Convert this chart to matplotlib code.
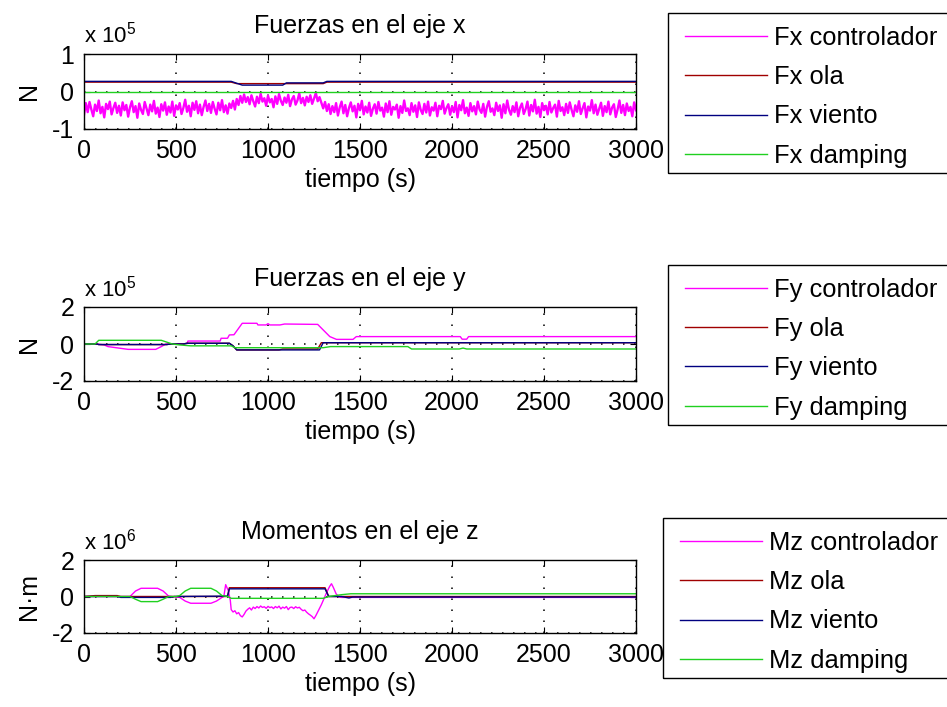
import matplotlib

matplotlib.use("Agg")
import matplotlib.pyplot as plt
from matplotlib.patches import Rectangle

# ---- data (forces in 1e5 N, moment in 1e6 N·m) ----
t_noise = list(range(0, 3001, 10))
fx_ctrl = [
    -0.62, -0.31, -0.55, -0.28, -0.48, -0.66, -0.35, -0.52, -0.24, -0.58, -0.41, -0.69, -0.33, -0.47, -0.27, -0.61, -0.44, -0.30, -0.57, -0.38,
    -0.64, -0.29, -0.50, -0.36, -0.67, -0.42, -0.26, -0.55, -0.39, -0.70, -0.32, -0.49, -0.60, -0.28, -0.45, -0.63, -0.35, -0.53, -0.25, -0.59,
    -0.43, -0.68, -0.34, -0.51, -0.29, -0.62, -0.40, -0.56, -0.27, -0.65, -0.37, -0.48, -0.31, -0.60, -0.44, -0.22, -0.54, -0.38, -0.66, -0.30,
    -0.49, -0.26, -0.58, -0.35, -0.63, -0.41, -0.24, -0.52, -0.33, -0.57, -0.28, -0.46, -0.61, -0.30, -0.50, -0.23, -0.55, -0.37, -0.59, -0.32,
    -0.44, -0.25, -0.48, -0.20, -0.36, -0.12, -0.30, -0.08, -0.28, -0.15, -0.34, -0.10, -0.26, -0.40, -0.14, -0.31, -0.06, -0.27, -0.18, -0.38,
    -0.11, -0.29, -0.20, -0.42, -0.13, -0.33, -0.07, -0.25, -0.36, -0.16, -0.30, -0.09, -0.39, -0.21, -0.12, -0.35, -0.24, -0.05, -0.31, -0.17,
    -0.37, -0.14, -0.28, -0.10, -0.33, -0.19, -0.04, -0.26, -0.15, -0.30, -0.45, -0.28, -0.52, -0.34, -0.60, -0.39, -0.55, -0.31, -0.64, -0.42,
    -0.27, -0.58, -0.36, -0.66, -0.44, -0.29, -0.53, -0.38, -0.69, -0.33, -0.50, -0.25, -0.61, -0.40, -0.56, -0.30, -0.65, -0.46, -0.34, -0.59,
    -0.28, -0.51, -0.43, -0.67, -0.32, -0.55, -0.26, -0.62, -0.41, -0.48, -0.35, -0.70, -0.39, -0.57, -0.24, -0.52, -0.45, -0.63, -0.31, -0.54,
    -0.37, -0.68, -0.29, -0.49, -0.60, -0.33, -0.56, -0.27, -0.64, -0.42, -0.51, -0.30, -0.66, -0.38, -0.47, -0.25, -0.59, -0.44, -0.34, -0.62,
    -0.40, -0.55, -0.28, -0.69, -0.36, -0.50, -0.23, -0.58, -0.43, -0.65, -0.31, -0.53, -0.39, -0.61, -0.27, -0.48, -0.57, -0.33, -0.67, -0.41,
    -0.26, -0.54, -0.45, -0.63, -0.30, -0.52, -0.37, -0.70, -0.34, -0.58, -0.24, -0.49, -0.62, -0.39, -0.55, -0.29, -0.66, -0.43, -0.32, -0.60,
    -0.47, -0.27, -0.64, -0.36, -0.53, -0.22, -0.59, -0.41, -0.68, -0.31, -0.50, -0.38, -0.61, -0.28, -0.56, -0.44, -0.35, -0.67, -0.25, -0.52,
    -0.42, -0.63, -0.33, -0.57, -0.29, -0.49, -0.66, -0.37, -0.54, -0.26, -0.60, -0.45, -0.31, -0.69, -0.40, -0.51, -0.23, -0.58, -0.35, -0.62,
    -0.46, -0.30, -0.65, -0.39, -0.55, -0.27, -0.61, -0.43, -0.34, -0.68, -0.48, -0.24, -0.57, -0.36, -0.63, -0.32, -0.52, -0.41, -0.66, -0.29,
    -0.50,
]
t_fx_ola = [0, 800, 830, 1300, 1320, 3000]
fx_ola = [0.25, 0.25, 0.21, 0.21, 0.25, 0.25]
t_fx_viento = [0, 800, 830, 860, 1080, 1100, 1300, 1320, 3000]
fx_viento = [0.27, 0.27, 0.22, 0.17, 0.17, 0.23, 0.23, 0.27, 0.27]
t_fx_damp = [0, 3000]
fx_damp = [0.0, 0.0]

t_fy_ctrl = [0, 70, 110, 130, 240, 390, 420, 445, 560, 565, 740, 745, 780, 790, 815,
             860, 940, 945, 990, 1000, 1010, 1065, 1090, 1270, 1300, 1318, 1336, 1372,
             1462, 1480, 2045, 2055, 2080, 2090, 3000]
fy_ctrl = [0.0, 0.0, -0.05, -0.14, -0.29, -0.29, -0.14, 0.0, 0.02, 0.16, 0.16, 0.31, 0.31, 0.49, 0.50,
           1.12, 1.12, 1.03, 1.03, 1.10, 1.03, 1.03, 1.08, 1.06, 0.76, 0.58, 0.40, 0.25,
           0.25, 0.40, 0.40, 0.26, 0.26, 0.40, 0.40]
t_fy_ola = [0, 70, 80, 450, 470, 540, 560, 790, 810, 830, 1060, 1080, 1270, 1290, 3000]
fy_ola = [0.0, 0.0, -0.03, -0.03, 0.0, 0.0, 0.04, 0.04, -0.10, -0.32, -0.32, -0.27, -0.27, 0.07, 0.07]
t_fy_viento = [0, 70, 80, 450, 470, 540, 560, 790, 810, 830, 1280, 1300, 3000]
fy_viento = [0.0, 0.0, -0.03, -0.03, 0.0, 0.0, 0.04, 0.04, -0.10, -0.32, -0.32, 0.07, 0.07]
t_fy_damp = [0, 60, 80, 420, 450, 480, 520, 580, 800, 820, 1300, 1340, 1760, 1780, 2040, 2060, 2080, 3000]
fy_damp = [0.0, 0.0, 0.20, 0.20, 0.10, 0.0, -0.05, -0.10, -0.10, -0.20, -0.20, -0.14, -0.14, -0.27, -0.27, -0.22, -0.27, -0.27]

t_mz_ctrl = [0, 250, 280, 310, 400, 430, 460, 520, 550, 580, 690, 720, 750, 760, 770, 785, 795,
             800, 810, 820, 830, 840, 850, 860, 870, 880, 890, 900, 910, 920, 930, 940, 950, 960,
             970, 980, 990, 1000, 1010, 1020, 1030, 1040, 1050, 1060, 1070, 1080, 1090, 1100,
             1110, 1120, 1130, 1140, 1150, 1160, 1170, 1180, 1190, 1200, 1210, 1220, 1230, 1240,
             1250, 1260, 1275, 1290, 1305, 1320, 1335, 1345, 1355, 1370, 1385, 1400, 3000]
mz_ctrl = [0.0, 0.0, 0.30, 0.45, 0.45, 0.30, 0.02, -0.05, -0.25, -0.37, -0.37, -0.25, -0.05, 0.0, 0.65, 0.30, -0.20,
           -0.72, -0.85, -0.78, -0.95, -0.88, -1.05, -1.12, -0.98, -0.80, -0.70, -0.62, -0.74, -0.58, -0.66, -0.55, -0.63, -0.52,
           -0.60, -0.56, -0.65, -0.54, -0.61, -0.57, -0.66, -0.55, -0.62, -0.53, -0.68, -0.58, -0.64, -0.55,
           -0.72, -0.60, -0.58, -0.66, -0.56, -0.63, -0.59, -0.70, -0.78, -0.74, -0.86, -0.95, -1.02, -1.10,
           -1.22, -1.05, -0.75, -0.45, -0.10, 0.25, 0.55, 0.70, 0.50, 0.15, -0.02, -0.05, -0.05]
t_mz_ola = [0, 60, 180, 200, 780, 790, 1310, 1330, 3000]
mz_ola = [0.0, 0.05, 0.05, 0.0, 0.0, 0.48, 0.48, 0.0, 0.0]
t_mz_viento = [0, 180, 200, 470, 490, 760, 780, 790, 1310, 1330, 1400, 1440, 1460, 3000]
mz_viento = [0.0, 0.0, -0.05, -0.05, 0.0, 0.02, 0.02, 0.42, 0.42, 0.0, 0.0, -0.08, -0.03, -0.03]
t_mz_damp = [0, 250, 280, 310, 400, 430, 460, 500, 520, 550, 580, 690, 720, 750, 780, 800, 1300, 1330, 1400, 1450, 3000]
mz_damp = [0.0, 0.0, -0.15, -0.28, -0.28, -0.15, 0.0, 0.0, 0.05, 0.30, 0.45, 0.45, 0.30, 0.05, 0.0, -0.10, -0.10, 0.0, 0.10, 0.15, 0.15]

C_CTRL, C_OLA, C_VIENTO, C_DAMP = "#ff00ff", "#a00000", "#000080", "#20d020"
FONT = ["Liberation Sans", "DejaVu Sans"]
TICKFONT = ["Liberation Sans Narrow", "Liberation Sans", "DejaVu Sans"]
plt.rcParams["font.family"] = FONT
plt.rcParams["mathtext.default"] = "regular"
plt.rcParams["axes.unicode_minus"] = False

fig = plt.figure(figsize=(9.47, 7.07), dpi=100)
W, H = 947, 707


def px_axes(top, bottom):
    return fig.add_axes([84 / W, 1 - bottom / H, 552 / W, (bottom - top) / H])


panels = [
    dict(top=54, bottom=129, lim=1, exp=5, ylabel="N", title="Fuerzas en el eje x", pre="Fx", box=(668, 13, 173),
         series=[(t_noise, fx_ctrl), (t_fx_ola, fx_ola), (t_fx_viento, fx_viento), (t_fx_damp, fx_damp)]),
    dict(top=307, bottom=381, lim=2, exp=5, ylabel="N", title="Fuerzas en el eje y", pre="Fy", box=(668, 265, 425),
         series=[(t_fy_ctrl, fy_ctrl), (t_fy_ola, fy_ola), (t_fy_viento, fy_viento), (t_fy_damp, fy_damp)]),
    dict(top=560, bottom=633, lim=2, exp=6, ylabel="N·m", title="Momentos en el eje z", pre="Mz", box=(663, 518, 678),
         series=[(t_mz_ctrl, mz_ctrl), (t_mz_ola, mz_ola), (t_mz_viento, mz_viento), (t_mz_damp, mz_damp)]),
]
names = ["controlador", "ola", "viento", "damping"]
colors = [C_CTRL, C_OLA, C_VIENTO, C_DAMP]

for p in panels:
    ax = px_axes(p["top"], p["bottom"])
    for i, ((t, v), name, c) in enumerate(zip(p["series"], names, colors)):
        lw = 1.7 if (p["pre"] == "Fx" and i == 0) else 1.0
        ax.plot(t, v, color=c, lw=lw, label=f"{p['pre']} {name}")
    ax.set_xlim(0, 3000)
    ax.set_ylim(-p["lim"], p["lim"])
    ax.set_xticks(range(0, 3001, 500))
    ax.set_yticks([-p["lim"], 0, p["lim"]])
    ax.grid(True, color="black", lw=1.1, linestyle=(0, (1, 6.2)))
    ax.tick_params(direction="in", length=4, top=True, right=True, labelsize=18, pad=7)
    for lab in ax.get_xticklabels() + ax.get_yticklabels():
        lab.set_family(TICKFONT)
    for s in ax.spines.values():
        s.set_linewidth(1.0)
    ax.set_title(p["title"], fontsize=18, pad=15)
    ax.set_xlabel("tiempo (s)", fontsize=18, labelpad=4)
    ax.set_ylabel(p["ylabel"], fontsize=18, labelpad=8)
    ax.text(0, 1.08, "x 10$^{%d}$" % p["exp"], transform=ax.transAxes, fontsize=16, va="bottom", ha="left")

    bx, btop, bbot = p["box"]
    fig.patches.append(Rectangle((bx / W, 1 - bbot / H), 320 / W, (bbot - btop) / H, transform=fig.transFigure,
                                 fill=False, edgecolor="black", lw=1.0))
    leg = ax.legend(loc="upper left", bbox_to_anchor=((bx + 4) / W, 1 - btop / H), bbox_transform=fig.transFigure,
                    fontsize=18.4, frameon=False, borderpad=0.5, labelspacing=0.6, handlelength=3.2,
                    handletextpad=0.3, borderaxespad=0)
    for ln in leg.get_lines():
        ln.set_linewidth(1.0)

fig.savefig("out.png", dpi=100)
